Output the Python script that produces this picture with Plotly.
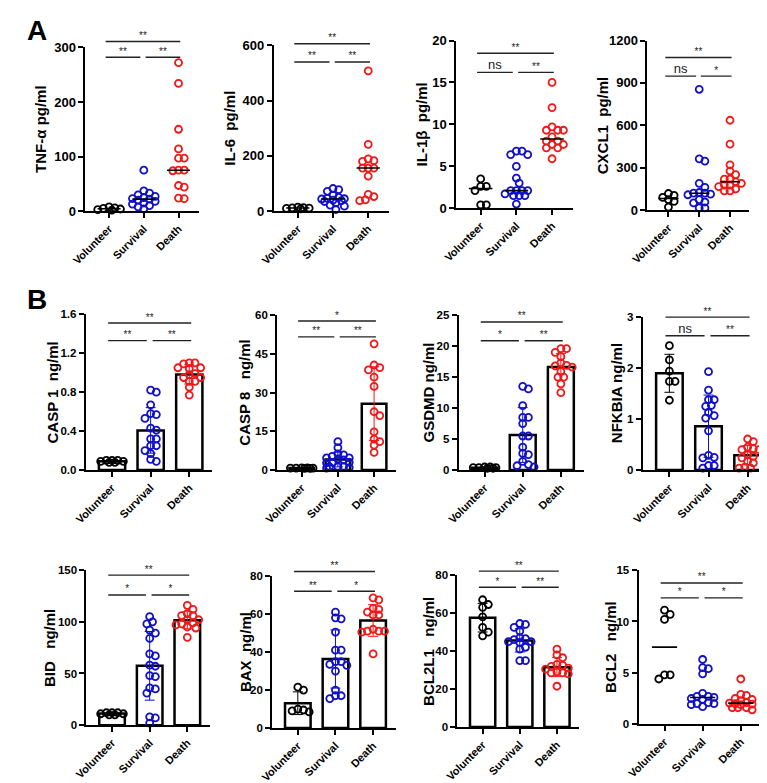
import numpy as np
import plotly.graph_objects as go

CATEGORIES = ["Volunteer", "Survival", "Death"]

# ---------------- data ----------------
TNF_VOL = [2, 3, 5, 8, 6, 4]
TNF_SUR = [75, 37, 33, 30, 27, 25, 23, 22, 20, 18, 15, 13, 10, 8, 4]
TNF_DEA = [272, 234, 150, 114, 97, 97, 75, 75, 74, 47, 44, 24, 23]

IL6_VOL = [8, 12, 15, 10, 13, 11]
IL6_SUR = [82, 78, 72, 58, 50, 46, 44, 40, 38, 35, 30, 22, 18, 6, 45]
IL6_DEA = [508, 242, 189, 183, 180, 156, 156, 156, 127, 61, 53, 41, 38]

IL1B_VOL = [3.5, 2.6, 2.6, 2.1, 0.4, 0.4]
IL1B_SUR = [6.8, 6.8, 6.4, 6.4, 5.0, 3.6, 3.0, 2.1, 2.1, 2.1, 2.1, 1.7, 1.5, 1.5, 1.5, 0.5]
IL1B_DEA = [15.0, 12.0, 9.7, 9.3, 9.3, 9.3, 8.5, 8.0, 8.0, 7.6, 7.6, 7.2, 7.2, 5.9]

CXCL1_VOL = [118, 105, 90, 75, 62, 22]
CXCL1_SUR = [855, 363, 347, 190, 162, 125, 120, 120, 113, 109, 74, 58, 51, 16, 16]
CXCL1_DEA = [636, 467, 321, 277, 252, 220, 220, 201, 190, 178, 178, 166, 150, 136, 136]

CASP1_VOL = [0.10, 0.09, 0.10, 0.08, 0.09, 0.10, 0.08]
CASP1_SUR = [0.82, 0.80, 0.67, 0.58, 0.57, 0.53, 0.43, 0.41, 0.32, 0.32, 0.25, 0.25, 0.20, 0.17, 0.11, 0.09]
CASP1_DEA = [1.10, 1.09, 1.10, 1.04, 1.05, 1.05, 0.99, 0.98, 0.95, 0.95, 0.91, 0.91, 0.85, 0.77]

CASP8_VOL = [0.8, 0.9, 0.7, 0.8, 0.9, 0.8, 0.7]
CASP8_SUR = [11.0, 8.7, 6.3, 5.9, 5.3, 4.7, 4.7, 4.3, 4.0, 3.0, 3.0, 2.8, 1.3, 1.3, 1.3, 1.0, 0.8]
CASP8_DEA = [48.9, 40.7, 39.7, 38.8, 36.0, 32.4, 22.6, 21.1, 14.8, 12.0, 11.0, 9.7, 6.9]

GSDMD_VOL = [0.4, 0.5, 0.3, 0.4, 0.5, 0.4, 0.3]
GSDMD_SUR = [13.5, 13.1, 10.4, 8.5, 8.5, 7.5, 5.5, 5.5, 3.7, 2.7, 2.5, 1.4, 0.9, 0.7, 0.5]
GSDMD_DEA = [19.6, 19.6, 19.0, 18.3, 17.3, 16.9, 16.8, 16.6, 15.9, 15.0, 15.0, 13.9, 12.5]

NFKBIA_VOL = [2.44, 2.16, 1.94, 1.74, 1.74, 1.37]
NFKBIA_SUR = [1.93, 1.57, 1.38, 1.38, 1.27, 1.25, 1.13, 1.07, 1.02, 0.77, 0.29, 0.25, 0.24, 0.09, 0.09, 0.04]
NFKBIA_DEA = [0.61, 0.56, 0.45, 0.42, 0.40, 0.40, 0.30, 0.27, 0.24, 0.17, 0.14, 0.06, 0.04, 0.04]

BID_VOL = [12, 11, 12, 10, 11, 12, 10]
BID_SUR = [105, 100, 98, 92, 89, 84, 69, 67, 58, 57, 48, 47, 36, 35, 31, 8, 7, 2]
BID_DEA = [116, 112, 108, 106, 106, 102, 102, 99, 98, 97, 95, 94, 85]

BAX_VOL = [21.5, 20, 10, 9.5, 9, 8.5]
BAX_SUR = [61, 58, 57.5, 50.5, 41, 41, 35, 35, 33.5, 33, 30, 20, 17, 17, 15.5]
BAX_DEA = [68.5, 67.5, 63, 62.5, 61, 59.5, 59.5, 52, 51, 51, 51, 50.5, 39]

BCL2L1_VOL = [67, 64.5, 63, 58, 52.5, 50, 48]
BCL2L1_SUR = [54.5, 54, 52.5, 50.5, 47, 46.5, 46, 45, 45, 44.5, 42, 41, 35, 35]
BCL2L1_DEA = [41, 38, 36.5, 33, 32.5, 32, 31, 30.5, 29, 28.5, 28.5, 28, 21.5]

BCL2_VOL = [11.1, 10.7, 10.2, 4.8, 4.8, 4.4]
BCL2_SUR = [6.3, 5.5, 5.4, 4.9, 3.0, 2.7, 2.7, 2.6, 2.5, 2.4, 2.1, 2.0, 2.0, 1.9, 1.7]
BCL2_DEA = [4.4, 2.9, 2.8, 2.5, 2.4, 2.3, 2.1, 2.05, 2.0, 1.95, 1.9, 1.6, 1.6, 1.6, 1.4]

# significance labels: (Volunteer-Death, Volunteer-Survival, Survival-Death)
SIG_TNF = ["**", "**", "**"]
SIG_IL6 = ["**", "**", "**"]
SIG_IL1B = ["**", "ns", "**"]
SIG_CXCL1 = ["**", "ns", "*"]
SIG_CASP1 = ["**", "**", "**"]
SIG_CASP8 = ["*", "**", "**"]
SIG_GSDMD = ["**", "*", "**"]
SIG_NFKBIA = ["**", "ns", "**"]
SIG_BID = ["**", "*", "*"]
SIG_BAX = ["**", "**", "*"]
SIG_BCL2L1 = ["**", "*", "**"]
SIG_BCL2 = ["**", "*", "*"]

Y_TITLES = ["TNF-α pg/ml", "IL-6\u00a0\u00a0pg/ml", "IL-1β\u00a0\u00a0pg/ml", "CXCL1\u00a0\u00a0pg/ml",
            "CASP 1\u00a0\u00a0ng/ml", "CASP 8\u00a0\u00a0\u00a0ng/ml", "GSDMD ng/ml", "NFKBIA ng/ml",
            "BID\u00a0\u00a0\u00a0ng/ml", "BAX\u00a0\u00a0ng/ml", "BCL2L1\u00a0\u00a0\u00a0ng/ml", "BCL2\u00a0\u00a0\u00a0ng/ml"]
Y_MAX = [300, 600, 20, 1200, 1.6, 60, 25, 3, 150, 80, 80, 15]
Y_DTICK = [100, 200, 5, 300, 0.4, 15, 5, 1, 50, 20, 20, 5]

GROUPS = [
    [TNF_VOL, TNF_SUR, TNF_DEA], [IL6_VOL, IL6_SUR, IL6_DEA],
    [IL1B_VOL, IL1B_SUR, IL1B_DEA], [CXCL1_VOL, CXCL1_SUR, CXCL1_DEA],
    [CASP1_VOL, CASP1_SUR, CASP1_DEA], [CASP8_VOL, CASP8_SUR, CASP8_DEA],
    [GSDMD_VOL, GSDMD_SUR, GSDMD_DEA], [NFKBIA_VOL, NFKBIA_SUR, NFKBIA_DEA],
    [BID_VOL, BID_SUR, BID_DEA], [BAX_VOL, BAX_SUR, BAX_DEA],
    [BCL2L1_VOL, BCL2L1_SUR, BCL2L1_DEA], [BCL2_VOL, BCL2_SUR, BCL2_DEA],
]
SIGS = [SIG_TNF, SIG_IL6, SIG_IL1B, SIG_CXCL1, SIG_CASP1, SIG_CASP8, SIG_GSDMD,
        SIG_NFKBIA, SIG_BID, SIG_BAX, SIG_BCL2L1, SIG_BCL2]
KIND = ["dot", "dot", "dot", "dot", "bar", "bar", "bar", "bar", "bar", "bar", "bar", "dot"]

# ---------------- layout geometry (pixels) ----------------
W, H = 767, 783
# first-category pixel x, category spacing px, axis top px, axis bottom px
GEOM = [
    (86, 35.5, 33, 200), (279, 36, 31, 200), (466, 36.5, 26, 197), (658, 31.5, 26, 199),
    (89, 39.5, 305, 464), (283, 37, 306, 464), (470, 39, 306, 464), (659, 40, 308, 464),
    (89, 38.5, 566, 724), (279, 38.5, 572, 727), (468, 38, 571, 726), (654, 39, 566, 723),
]
# bracket heights as fraction of axis max: (top bracket, lower brackets)
BRACKET = [(1.036, 0.94), (1.01, 0.90), (0.924, 0.81), (0.90, 0.79),
           (0.943, 0.83), (0.962, 0.86), (0.956, 0.835), (1.0, 0.878),
           (0.968, 0.84), (1.03, 0.90), (1.026, 0.92), (0.917, 0.82)]
TITLE_X = [16, 209, 405, 590, 28, 225, 413, 605, 25, 225, 412, 598]

COLORS = ["#000000", "#1010c8", "#f01818"]
FONT = "Liberation Sans, Arial, sans-serif"
XR = [-0.68, 2.6]


def swarm(vals, ppu_y, ppu_x, d=5.8, cap=13.0):
    """Beeswarm offsets (in x units) computed from values and pixel scales."""
    vals = np.asarray(vals, float)
    order = np.argsort(-vals)
    placed = []
    offs = np.zeros(len(vals))
    step = d / 2.0
    nmax = int(cap // step)
    cands = [0.0]
    for m in range(1, nmax + 1):
        cands += [m * step, -m * step]
    for idx in order:
        ypx = vals[idx] * ppu_y
        best, best_d = None, -1.0
        for c in cands:
            md = min([np.hypot(c - px, ypx - py) for px, py in placed] or [1e9])
            if md >= d:
                best = c
                break
            if md > best_d:
                best, best_d = c, md
        placed.append((best, ypx))
        offs[idx] = best / ppu_x
    return offs


fig = go.Figure()
layout = {}
annotations = []

for i in range(12):
    n = i + 1
    xa = "x" if n == 1 else f"x{n}"
    ya = "y" if n == 1 else f"y{n}"
    yh = f"y{n + 12}"
    tick0, sp, top, bot = GEOM[i]
    ymax = Y_MAX[i]
    left = tick0 + XR[0] * sp
    right = tick0 + XR[1] * sp
    ppu_y = (bot - top) / ymax
    top_ext = max(top - 32, 0)
    is_b = i >= 4

    layout["xaxis" if n == 1 else f"xaxis{n}"] = dict(
        domain=[left / W, min(right / W, 1.0)], range=XR, anchor=ya,
        tickvals=[0, 1, 2], ticktext=CATEGORIES,
        tickangle=-45,
        showline=True, linecolor="black", linewidth=2,
        ticks="outside", ticklen=5, tickwidth=2, tickcolor="black",
        showgrid=False, zeroline=False,
        tickfont=dict(family=FONT, size=11, color="black", weight="bold"),
    )
    layout["yaxis" if n == 1 else f"yaxis{n}"] = dict(
        domain=[1 - bot / H, 1 - top / H], range=[0, ymax], anchor=xa,
        tick0=0, dtick=Y_DTICK[i], tickformat=".1f" if ymax < 2 else "d",
        showline=True, linecolor="black", linewidth=2,
        ticks="outside", ticklen=5, tickwidth=2, tickcolor="black",
        showgrid=False, zeroline=False,
        tickfont=dict(family=FONT, size=11.5 if is_b else 13, color="black", weight="bold"),
    )
    layout[f"yaxis{n + 12}"] = dict(
        domain=[1 - bot / H, 1 - top_ext / H],
        range=[0, ymax * (bot - top_ext) / (bot - top)], anchor=xa, visible=False,
        showgrid=False, zeroline=False,
    )

    groups = GROUPS[i]
    if KIND[i] == "bar":
        for g, vals in enumerate(groups):
            v = np.asarray(vals, float)
            fig.add_trace(go.Bar(
                x=[g], y=[v.mean()], width=0.68, xaxis=xa, yaxis=ya,
                marker=dict(color="white", line=dict(color="black", width=2.5)),
                error_y=dict(type="data", array=[v.std(ddof=1)], color=COLORS[g],
                             thickness=1, width=5),
                showlegend=False, hoverinfo="skip",
            ))
    for g, vals in enumerate(groups):
        offs = swarm(vals, ppu_y, sp)
        fig.add_trace(go.Scatter(
            x=g + offs, y=vals, mode="markers", xaxis=xa, yaxis=ya,
            marker=dict(symbol="circle-open", size=7, color=COLORS[g], line=dict(width=1.8)),
            cliponaxis=False, showlegend=False,
        ))
    if KIND[i] == "dot":
        for g, vals in enumerate(groups):
            med = float(np.median(vals))
            fig.add_trace(go.Scatter(
                x=[g - 0.33, g + 0.33], y=[med, med], mode="lines", xaxis=xa, yaxis=ya,
                line=dict(color="black", width=1.6), showlegend=False, hoverinfo="skip",
            ))

    # significance brackets
    hi, lo = BRACKET[i]
    sig = SIGS[i]
    spans = [(-0.1, 2.05, hi * ymax, sig[0]), (-0.1, 0.9, lo * ymax, sig[1]),
             (1.05, 2.05, lo * ymax, sig[2])]
    for x0, x1, lvl, lab in spans:
        fig.add_trace(go.Scatter(
            x=[x0, x1], y=[lvl, lvl], mode="lines", xaxis=xa, yaxis=yh,
            line=dict(color="#222222", width=1.4), showlegend=False, hoverinfo="skip",
        ))
        fig.add_trace(go.Scatter(
            x=[(x0 + x1) / 2], y=[lvl], mode="text", text=[lab], xaxis=xa, yaxis=yh,
            textposition="top center", cliponaxis=False,
            textfont=dict(family=FONT, size=13 if lab == "ns" else 10, color="#222222"),
            showlegend=False, hoverinfo="skip",
        ))

    annotations.append(dict(
        text=Y_TITLES[i], xref="paper", yref="paper",
        x=TITLE_X[i] / W, y=1 - ((top + bot) / 2) / H,
        textangle=-90, showarrow=False, xanchor="center", yanchor="middle",
        font=dict(family=FONT, size=15, color="black", weight="bold"),
    ))

annotations.append(dict(text="A", xref="paper", yref="paper", x=12 / W, y=1 - 16 / H,
                        showarrow=False, xanchor="center", yanchor="middle",
                        font=dict(family=FONT, size=28, color="black", weight="bold")))
annotations.append(dict(text="B", xref="paper", yref="paper", x=12 / W, y=1 - 290 / H,
                        showarrow=False, xanchor="center", yanchor="middle",
                        font=dict(family=FONT, size=28, color="black", weight="bold")))

fig.update_layout(
    width=W, height=H, margin=dict(l=0, r=0, t=0, b=0),
    paper_bgcolor="white", plot_bgcolor="rgba(0,0,0,0)",
    barmode="overlay", showlegend=False, annotations=annotations,
    **layout,
)

fig.write_html("out.html")
